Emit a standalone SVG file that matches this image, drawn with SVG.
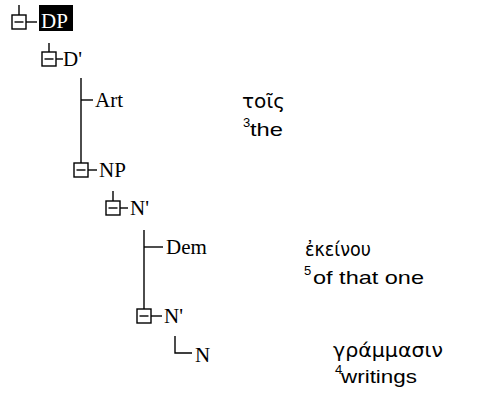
<svg xmlns="http://www.w3.org/2000/svg" width="483" height="403" viewBox="0 0 483 403">
<style>
.bg{fill:#fff}
.ln{stroke:#000;stroke-width:1.4;fill:none}
.box{fill:#fff;stroke:#000;stroke-width:1.4}
.tr{font-family:"Liberation Serif","Times New Roman",serif;font-size:21px;fill:#000}
.gk{font-family:"DejaVu Sans","Noto Sans",sans-serif;font-size:20px;fill:#000}
.gl{font-family:"Liberation Sans",Arial,sans-serif;font-size:19px;fill:#000}
.sup{font-family:"Liberation Sans",Arial,sans-serif;font-size:13px;fill:#000}
</style>
<defs>
<g id="tog">
<rect class="box" x="-7" y="-7" width="14" height="14"/>
<line class="ln" x1="-4.5" y1="0" x2="4.5" y2="0"/>
</g>
</defs>
<rect class="bg" x="0" y="0" width="483" height="403"/>
<g id="connectors">
<line class="ln" x1="19" y1="5" x2="19" y2="15"/>
<line class="ln" x1="26" y1="22" x2="37" y2="22"/>
<line class="ln" x1="49" y1="43" x2="49" y2="52"/>
<line class="ln" x1="56" y1="59" x2="63" y2="59"/>
<line class="ln" x1="81" y1="78" x2="81" y2="163"/>
<line class="ln" x1="81" y1="100" x2="93" y2="100"/>
<line class="ln" x1="88" y1="170" x2="97" y2="170"/>
<line class="ln" x1="113" y1="191" x2="113" y2="201"/>
<line class="ln" x1="120" y1="208" x2="128" y2="208"/>
<line class="ln" x1="144" y1="230" x2="144" y2="309"/>
<line class="ln" x1="144" y1="247" x2="163" y2="247"/>
<line class="ln" x1="151" y1="316" x2="162" y2="316"/>
<polyline class="ln" points="175,336 175,353 192,353"/>
</g>
<g id="node-DP">
<use href="#tog" x="19" y="22"/>
<rect x="39" y="5" width="34" height="26" fill="#000"/>
<text class="tr" x="41" y="28" style="fill:#fff">DP</text>
</g>
<g id="node-Dbar">
<use href="#tog" x="49" y="59"/>
<text class="tr" x="63" y="66">D'</text>
</g>
<g id="node-Art">
<text class="tr" x="95" y="107">Art</text>
<text class="gk" x="242" y="108" textLength="43" lengthAdjust="spacingAndGlyphs">τοῖς</text>
<text class="sup" x="243" y="127">3</text>
<text class="gl" x="250" y="136" textLength="33" lengthAdjust="spacingAndGlyphs">the</text>
</g>
<g id="node-NP">
<use href="#tog" x="81" y="170"/>
<text class="tr" x="99" y="177">NP</text>
</g>
<g id="node-Nbar1">
<use href="#tog" x="113" y="208"/>
<text class="tr" x="130" y="215">N'</text>
</g>
<g id="node-Dem">
<text class="tr" x="166" y="254">Dem</text>
<text class="gk" x="305" y="256" textLength="66" lengthAdjust="spacingAndGlyphs">ἐκείνου</text>
<text class="sup" x="304" y="275">5</text>
<text class="gl" x="313" y="284" textLength="111" lengthAdjust="spacingAndGlyphs">of that one</text>
</g>
<g id="node-Nbar2">
<use href="#tog" x="144" y="316"/>
<text class="tr" x="164" y="323">N'</text>
</g>
<g id="node-N">
<text class="tr" x="195" y="362">N</text>
<text class="gk" x="333" y="357" textLength="110" lengthAdjust="spacingAndGlyphs">γράμμασιν</text>
<text class="sup" x="335" y="374">4</text>
<text class="gl" x="341" y="383" textLength="76" lengthAdjust="spacingAndGlyphs">writings</text>
</g>
</svg>
